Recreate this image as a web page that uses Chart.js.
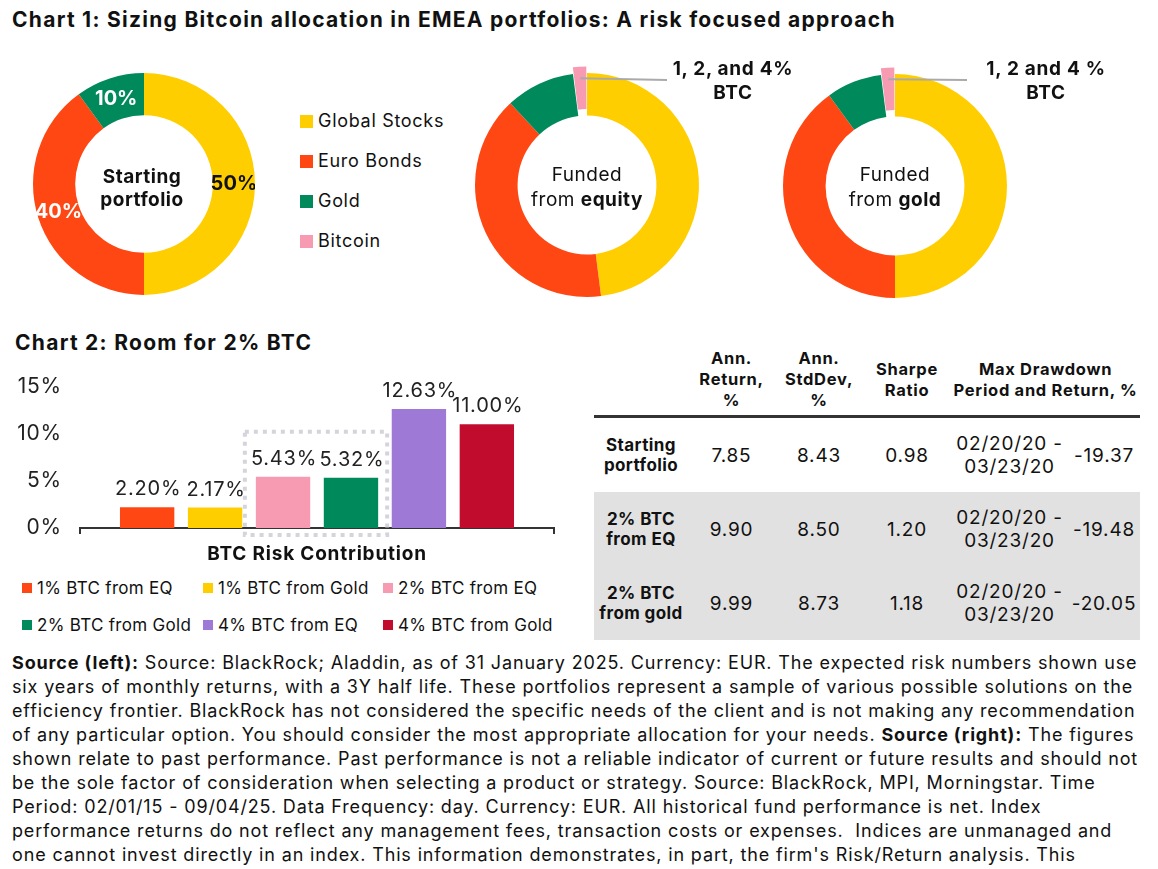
<!DOCTYPE html>
<html>
<head>
<meta charset="utf-8">
<script src="https://cdn.jsdelivr.net/npm/chart.js@4.4.1/dist/chart.umd.min.js"></script>
<style>
  body { margin: 0; width: 1158px; height: 869px; background: #fff; position: relative; overflow: hidden;
         font-family: Inter, "Noto Sans", sans-serif; color: #111; }
  .abs { position: absolute; }
  .title { font-weight: 700; font-size: 21px; line-height: 24px; letter-spacing: 1.28px; white-space: nowrap; }
  .legend-item { position: absolute; display: flex; align-items: center; white-space: nowrap; }
  .legend-item i { display: inline-block; flex: none; }
  .center-text { position: absolute; width: 160px; text-align: center; font-size: 19px; letter-spacing: 0.5px; }
  .callout { position: absolute; width: 160px; text-align: center; font-weight: 700; font-size: 19px; line-height: 24px; letter-spacing: 0.7px; }
  table { border-collapse: collapse; table-layout: fixed; width: 546px; }
  td, th { padding: 0; text-align: center; vertical-align: middle; white-space: pre-line; }
  th { font-size: 16.5px; font-weight: 700; line-height: 21px; height: 71px; border-bottom: 3px solid #333; letter-spacing: 0.7px; }
  td { font-size: 19px; line-height: 23px; height: 74px; letter-spacing: 0.8px; }
  td.rowhead { font-weight: 700; font-size: 17px; line-height: 20px; letter-spacing: 0.4px; }
  tr.shade td { background: #e1e1e1; }
  .source { position: absolute; left: 12px; top: 651px; font-size: 18px; line-height: 24px; letter-spacing: 0.85px; color: #111; }
  .source div { white-space: nowrap; }
</style>
</head>
<body>

<div class="abs title" style="left:12px;top:8px">Chart 1: Sizing Bitcoin allocation in EMEA portfolios: A risk focused approach</div>
<div class="abs title" style="left:15px;top:331px">Chart 2: Room for 2% BTC</div>

<canvas id="startChart" class="abs" width="222" height="222" style="left:33px;top:73px"></canvas>
<canvas id="equityChart" class="abs" width="238" height="238" style="left:468px;top:66px"></canvas>
<canvas id="goldChart" class="abs" width="238" height="238" style="left:776px;top:67px"></canvas>

<div class="center-text" style="left:62px;top:165px;line-height:23px;font-weight:700">Starting<br>portfolio</div>
<div class="center-text" style="left:507px;top:162px;line-height:25px">Funded<br>from <b>equity</b></div>
<div class="center-text" style="left:815px;top:162px;line-height:25px">Funded<br>from <b>gold</b></div>

<div class="callout" style="left:653px;top:57px">1, 2, and 4%<br>BTC</div>
<div class="callout" style="left:966px;top:57px">1, 2 and 4 %<br>BTC</div>

<div id="assetLegend"></div>

<canvas id="riskChart" class="abs" width="570" height="216" style="left:0;top:356px"></canvas>
<div id="riskLegend"></div>

<div class="abs" style="left:594px;top:344px">
  <table id="statsTable">
    <colgroup>
      <col style="width:94px"><col style="width:87px"><col style="width:88px">
      <col style="width:88px"><col style="width:117px"><col style="width:72px">
    </colgroup>
    <thead><tr id="statsHead"></tr></thead>
    <tbody id="statsBody"></tbody>
  </table>
</div>

<div class="source">
  <div><b>Source (left):</b> Source: BlackRock; Aladdin, as of 31 January 2025. Currency: EUR. The expected risk numbers shown use</div>
  <div>six years of monthly returns, with a 3Y half life. These portfolios represent a sample of various possible solutions on the</div>
  <div>efficiency frontier. BlackRock has not considered the specific needs of the client and is not making any recommendation</div>
  <div>of any particular option. You should consider the most appropriate allocation for your needs. <b>Source (right):</b> The figures</div>
  <div>shown relate to past performance. Past performance is not a reliable indicator of current or future results and should not</div>
  <div>be the sole factor of consideration when selecting a product or strategy. Source: BlackRock, MPI, Morningstar. Time</div>
  <div>Period: 02/01/15 - 09/04/25. Data Frequency: day. Currency: EUR. All historical fund performance is net. Index</div>
  <div>performance returns do not reflect any management fees, transaction costs or expenses.&nbsp; Indices are unmanaged and</div>
  <div>one cannot invest directly in an index. This information demonstrates, in part, the firm's Risk/Return analysis. This</div>
</div>

<script>
// chart 1 - portfolio weights, %
const assetLabels = ['Global Stocks', 'Euro Bonds', 'Gold', 'Bitcoin'];
const assetColors = ['#FFCE00', '#FF4714', '#008A5C', '#F79BB3'];
const startingWeights = [50, 40, 10, 0];
const equityWeights = [48, 40, 10, 2];
const goldWeights = [50, 40, 8, 2];

// chart 2 - BTC risk contribution, %
const riskCategory = ['BTC Risk Contribution'];
const riskLabels = ['1% BTC from EQ', '1% BTC from Gold', '2% BTC from EQ',
                    '2% BTC from Gold', '4% BTC from EQ', '4% BTC from Gold'];
const riskValues = [2.20, 2.17, 5.43, 5.32, 12.63, 11.00];
const riskColors = ['#FF4714', '#FFCE00', '#F79BB3', '#008A5C', '#9E7AD6', '#C20C2E'];
const riskTicks = [0, 5, 10, 15];

// table
const statsHeaders = ['', 'Ann.\nReturn,\n%', 'Ann.\nStdDev,\n%', 'Sharpe\nRatio', 'Max Drawdown\nPeriod and Return, %'];
const statsRows = [
    ['Starting\nportfolio', '7.85', '8.43', '0.98', '02/20/20 -\n03/23/20', '-19.37'],
    ['2% BTC\nfrom EQ', '9.90', '8.50', '1.20', '02/20/20 -\n03/23/20', '-19.48'],
    ['2% BTC\nfrom gold', '9.99', '8.73', '1.18', '02/20/20 -\n03/23/20', '-20.05']
];

const FONT = 'Inter, "Noto Sans", sans-serif';

// percent labels on the slices
const sliceLabels = {
    id: 'sliceLabels',
    afterDatasetsDraw(chart, args, opts) {
        if (!opts.colors) return;
        const ctx = chart.ctx;
        const values = chart.data.datasets[0].data;
        ctx.save();
        ctx.font = 'bold 20px ' + FONT;
        ctx.textAlign = 'center';
        ctx.textBaseline = 'middle';
        chart.getDatasetMeta(0).data.forEach((arc, i) => {
            if (!values[i]) return;
            const p = arc.tooltipPosition();
            ctx.fillStyle = opts.colors[i];
            ctx.fillText(values[i] + '%', p.x, p.y);
        });
        ctx.restore();
    }
};

// grey leader line from the bitcoin slice to its label
const btcCallout = {
    id: 'btcCallout',
    afterDatasetsDraw(chart, args, opts) {
        if (!opts.dx) return;
        const arc = chart.getDatasetMeta(0).data[3];
        const mid = (arc.startAngle + arc.endAngle) / 2;
        const r = arc.outerRadius - 5;
        const ctx = chart.ctx;
        ctx.save();
        ctx.strokeStyle = '#aaaaaa';
        ctx.lineWidth = 2;
        ctx.beginPath();
        ctx.moveTo(arc.x + Math.cos(mid) * r, arc.y + Math.sin(mid) * r);
        ctx.lineTo(arc.x + opts.dx, arc.y + opts.dy);
        ctx.stroke();
        ctx.restore();
    }
};

function makeDonut(id, weights, pluginOpts) {
    return new Chart(document.getElementById(id), {
        type: 'doughnut',
        data: {
            labels: assetLabels,
            datasets: [{
                data: weights,
                backgroundColor: assetColors,
                borderWidth: 0,
                offset: weights.map((w, i) => (i === 3 && w ? 14 : 0))
            }]
        },
        options: {
            responsive: false,
            animation: false,
            events: [],
            cutout: '62%',
            plugins: Object.assign({ legend: { display: false }, tooltip: { enabled: false } }, pluginOpts)
        },
        plugins: [sliceLabels, btcCallout]
    });
}

makeDonut('startChart', startingWeights, { sliceLabels: { colors: ['#111', '#fff', '#fff', '#fff'] } });
makeDonut('equityChart', equityWeights, { btcCallout: { dx: 80, dy: -105 } });
makeDonut('goldChart', goldWeights, { btcCallout: { dx: 72, dy: -106 } });

// slightly wider letters on the bar chart canvas
const spacing = {
    id: 'spacing',
    beforeDraw(chart) { chart.ctx.letterSpacing = '0.8px'; }
};

// value labels above bars
const barValues = {
    id: 'barValues',
    afterDatasetsDraw(chart) {
        const ctx = chart.ctx;
        ctx.save();
        ctx.font = '20px ' + FONT;
        ctx.fillStyle = '#222';
        ctx.textAlign = 'center';
        ctx.textBaseline = 'bottom';
        chart.data.datasets.forEach((ds, i) => {
            chart.getDatasetMeta(i).data.forEach((bar, j) => {
                ctx.fillText(ds.data[j].toFixed(2) + '%', bar.x + 1, bar.y - 8);
            });
        });
        ctx.restore();
    }
};

// dotted box round the 2% bars
const highlightBox = {
    id: 'highlightBox',
    afterDatasetsDraw(chart, args, opts) {
        const a = chart.getDatasetMeta(opts.from).data[0];
        const b = chart.getDatasetMeta(opts.to).data[0];
        const y = chart.scales.y;
        const left = a.x - a.width / 2 - 11;
        const right = b.x + b.width / 2 + 9;
        const top = y.getPixelForValue(opts.top);
        const bottom = y.getPixelForValue(0) + 7;
        const ctx = chart.ctx;
        ctx.save();
        ctx.strokeStyle = '#d4d4dc';
        ctx.lineWidth = 4;
        ctx.setLineDash([4, 5]);
        ctx.strokeRect(left, top, right - left, bottom - top);
        ctx.restore();
    }
};

new Chart(document.getElementById('riskChart'), {
    type: 'bar',
    data: {
        labels: riskCategory,
        datasets: riskLabels.map((label, i) => ({
            label: label,
            data: [riskValues[i]],
            backgroundColor: riskColors[i],
            barPercentage: 0.8,
            categoryPercentage: 0.86
        }))
    },
    options: {
        responsive: false,
        animation: false,
        events: [],
        layout: { padding: { top: 0, right: 16, left: 0, bottom: 0 } },
        plugins: {
            legend: { display: false },
            tooltip: { enabled: false },
            highlightBox: { from: 2, to: 3, top: 10.2 }
        },
        scales: {
            x: {
                grid: { drawOnChartArea: false, drawTicks: true, tickLength: 6, color: '#333', lineWidth: 2 },
                border: { display: true, color: '#333', width: 2 },
                ticks: { font: { family: FONT, size: 19, weight: 'bold' }, color: '#111', padding: 9 },
                afterFit(s) { s.height = 44; }
            },
            y: {
                min: 0,
                max: 15,
                grid: { display: false, drawTicks: false },
                border: { display: false },
                afterBuildTicks(s) { s.ticks = riskTicks.map(v => ({ value: v })); },
                ticks: { callback: v => v + '%', font: { family: FONT, size: 21 }, color: '#222', padding: 18 },
                afterFit(s) { s.width = 80; }
            }
        }
    },
    plugins: [spacing, barValues, highlightBox]
});

// chart 1 legend
const assetLegend = document.getElementById('assetLegend');
assetLabels.forEach((label, i) => {
    const item = document.createElement('div');
    item.className = 'legend-item';
    item.style.cssText = `left:300px;top:${109 + i * 40}px;font-size:18px;line-height:24px;letter-spacing:0.7px`;
    item.innerHTML = `<i style="width:13px;height:13px;background:${assetColors[i]};margin-right:5px"></i>${label}`;
    assetLegend.appendChild(item);
});

// chart 2 legend, three per row
const riskLegend = document.getElementById('riskLegend');
const legendCols = [22, 203, 383];
riskLabels.forEach((label, i) => {
    const item = document.createElement('div');
    item.className = 'legend-item';
    item.style.cssText = `left:${legendCols[i % 3]}px;top:${576 + Math.floor(i / 3) * 37}px;font-size:17px;line-height:24px;letter-spacing:0.3px`;
    item.innerHTML = `<i style="width:10px;height:10px;background:${riskColors[i]};margin-right:5px"></i>${label}`;
    riskLegend.appendChild(item);
});

// table
const head = document.getElementById('statsHead');
statsHeaders.forEach((h, i) => {
    const th = document.createElement('th');
    th.textContent = h;
    if (i === statsHeaders.length - 1) th.colSpan = 2;
    head.appendChild(th);
});
const body = document.getElementById('statsBody');
statsRows.forEach((row, r) => {
    const tr = document.createElement('tr');
    if (r > 0) tr.className = 'shade';
    row.forEach((cell, c) => {
        const td = document.createElement('td');
        td.textContent = cell;
        if (c === 0) td.className = 'rowhead';
        tr.appendChild(td);
    });
    body.appendChild(tr);
});
</script>
</body>
</html>
